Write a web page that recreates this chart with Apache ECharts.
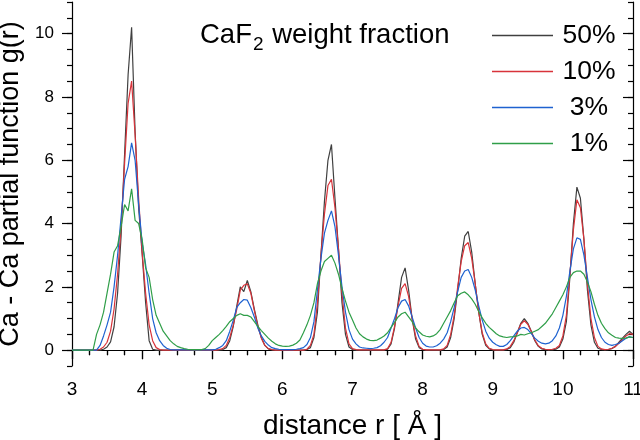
<!DOCTYPE html>
<html>
<head>
<meta charset="utf-8">
<script src="https://cdn.jsdelivr.net/npm/echarts@6/dist/echarts.min.js"></script>
<style>
html,body{margin:0;padding:0;background:#fff;}
#chart{width:640px;height:440px;}
</style>
</head>
<body>
<div id="chart"></div>
<script>
// sampling grid of distance r (Å)
const rStart = 3.0, rStep = 0.05, rCount = 161;
const seriesNames = ['50%', '10%', '3%', '1%'];
const xTickLabels = [3, 4, 5, 6, 7, 8, 9, 10, 11];
const yTickLabels = [0, 2, 4, 6, 8, 10];

const g50 = [
  0,0,0,0,0,0,0,0,0,0.03,
  0.1,0.26,0.74,1.8,3.6,6.2,8.7,10.2,6.9,4.5,
  3.05,1.5,0.3,0.03,0,0,0,0,0,0,
  0,0,0,0,0,0,0,0,0,0,
  0,0,0,0.02,0.08,0.3,0.75,1.4,2.0,1.85,
  2.2,1.85,1.3,0.8,0.4,0.15,0.04,0.01,0,0,
  0,0,0,0,0,0,0,0.02,0.08,0.4,
  1.2,3.0,4.7,6.0,6.5,4.8,3.2,1.5,0.5,0.1,
  0.02,0,0,0,0,0,0,0,0,0,
  0.03,0.2,0.7,1.5,2.3,2.6,1.9,1.0,0.35,0.08,
  0.02,0,0,0,0,0,0.02,0.1,0.4,1.0,
  1.9,2.9,3.6,3.75,3.1,2.1,1.2,0.5,0.15,0.04,
  0.01,0,0,0,0.02,0.08,0.25,0.55,0.85,1.0,
  0.85,0.6,0.3,0.12,0.04,0.02,0.01,0.01,0.03,0.1,
  0.35,0.9,2.3,4.0,5.15,4.8,3.5,1.9,0.8,0.25,
  0.06,0.02,0.01,0.02,0.05,0.12,0.25,0.38,0.5,0.6,
  0.5
];
const g10 = [
  0,0,0,0,0,0,0,0,0.03,0.1,
  0.25,0.6,1.3,2.4,3.9,5.9,7.8,8.5,6.8,4.8,
  3.1,1.8,0.8,0.3,0.08,0.02,0,0,0,0,
  0,0,0,0,0,0,0,0,0,0,
  0,0,0.02,0.05,0.15,0.4,0.8,1.3,1.9,2.05,
  2.1,1.8,1.25,0.75,0.38,0.15,0.05,0.02,0,0,
  0,0,0,0,0,0,0,0.03,0.15,0.5,
  1.5,3.0,4.3,5.2,5.4,4.5,3.2,1.8,0.7,0.2,
  0.05,0.02,0.01,0.01,0.01,0.01,0.01,0.01,0.01,0.01,
  0.05,0.25,0.75,1.4,1.95,2.1,1.7,1.0,0.45,0.12,
  0.03,0.01,0.01,0.01,0.01,0.01,0.04,0.15,0.5,1.1,
  2.0,2.8,3.3,3.4,2.9,2.1,1.2,0.55,0.2,0.06,
  0.02,0.01,0.01,0.01,0.04,0.12,0.3,0.55,0.82,0.93,
  0.82,0.58,0.32,0.14,0.06,0.03,0.02,0.03,0.06,0.15,
  0.45,1.1,2.4,3.8,4.75,4.5,3.5,2.1,1.0,0.4,
  0.12,0.04,0.02,0.03,0.06,0.12,0.22,0.33,0.45,0.52,
  0.5
];
const g3 = [
  0,0,0,0,0,0,0,0,0.15,0.45,
  0.8,1.2,2.0,3.0,4.2,5.4,5.8,6.55,6.0,4.6,
  3.4,2.7,1.8,1.0,0.55,0.3,0.15,0.06,0.02,0.01,
  0.01,0.01,0.01,0.01,0.01,0.01,0.01,0.01,0.01,0.01,
  0.01,0.03,0.08,0.15,0.3,0.6,0.95,1.35,1.5,1.6,
  1.58,1.35,1.05,0.7,0.45,0.28,0.16,0.08,0.05,0.03,
  0.02,0.02,0.02,0.02,0.03,0.05,0.08,0.18,0.4,0.9,
  1.9,2.9,3.7,4.1,4.4,3.9,3.0,2.0,1.2,0.65,
  0.35,0.2,0.1,0.07,0.06,0.05,0.06,0.08,0.14,0.25,
  0.4,0.7,1.0,1.35,1.55,1.6,1.4,1.05,0.7,0.4,
  0.22,0.13,0.1,0.1,0.14,0.22,0.35,0.55,0.9,1.35,
  1.85,2.3,2.5,2.55,2.3,1.9,1.4,0.95,0.6,0.38,
  0.25,0.17,0.12,0.12,0.18,0.3,0.45,0.6,0.7,0.72,
  0.65,0.52,0.38,0.28,0.22,0.2,0.22,0.3,0.45,0.7,
  1.1,1.7,2.5,3.2,3.55,3.5,3.0,2.3,1.6,1.05,
  0.65,0.4,0.25,0.18,0.15,0.18,0.22,0.3,0.38,0.42,
  0.4
];
const g1 = [
  0,0,0,0,0,0,0,0.5,0.8,1.2,
  1.8,2.4,3.1,3.3,3.9,4.6,4.4,5.1,4.1,4.0,
  3.5,2.6,2.3,1.6,1.1,0.85,0.6,0.45,0.3,0.2,
  0.12,0.08,0.05,0.03,0.02,0.02,0.02,0.02,0.05,0.15,
  0.3,0.4,0.5,0.62,0.75,0.9,1.0,1.1,1.15,1.1,
  1.1,1.05,0.9,0.75,0.62,0.5,0.38,0.28,0.2,0.15,
  0.13,0.12,0.13,0.16,0.22,0.32,0.55,0.8,1.1,1.5,
  2.1,2.5,2.8,2.9,3.0,2.75,2.4,1.95,1.55,1.2,
  0.95,0.7,0.52,0.42,0.35,0.31,0.3,0.32,0.38,0.45,
  0.55,0.72,0.88,1.05,1.15,1.2,1.05,0.9,0.7,0.58,
  0.48,0.44,0.42,0.45,0.52,0.65,0.85,1.05,1.25,1.5,
  1.72,1.8,1.84,1.75,1.62,1.45,1.22,1.02,0.85,0.72,
  0.62,0.52,0.45,0.42,0.4,0.42,0.43,0.45,0.5,0.48,
  0.52,0.55,0.6,0.65,0.75,0.85,1.0,1.15,1.35,1.55,
  1.75,2.0,2.3,2.45,2.5,2.5,2.4,2.15,1.85,1.45,
  1.1,0.85,0.68,0.55,0.47,0.4,0.38,0.37,0.38,0.42,
  0.4
];

const r = [];
for (let i = 0; i < rCount; i++) r.push(+(rStart + rStep * i).toFixed(2));
const values = [g50, g10, g3, g1];
const colors = ['#404040', '#d8333a', '#1e62d0', '#2f9e48'];

const FONT = 'Liberation Sans, Arial, Helvetica, sans-serif';
const axisLineStyle = { color: '#000', width: 1.2 };
const yMin = -0.5, yMax = 11;

const chart = echarts.init(document.getElementById('chart'), null, { renderer: 'canvas' });
chart.setOption({
  backgroundColor: '#fff',
  animation: false,
  grid: { left: 72, right: 7, top: 2, bottom: 74, containLabel: false, outerBoundsMode: 'none' },
  title: {
    text: '{n|CaF}{s|2}{n| weight fraction}',
    left: 200, top: 21, padding: 0,
    textStyle: {
      fontWeight: 'normal',
      rich: {
        n: { fontSize: 27.5, fontFamily: FONT, fontWeight: 'normal', color: '#000', lineHeight: 30, verticalAlign: 'top' },
        s: { fontSize: 19, fontFamily: FONT, fontWeight: 'normal', color: '#000', lineHeight: 30, verticalAlign: 'top', padding: [14, 1, 0, 1] }
      }
    }
  },
  legend: {
    orient: 'vertical', left: 492, top: 22, padding: 0,
    itemWidth: 61, itemHeight: 1.6, itemGap: 9,
    icon: 'rect',
    data: seriesNames,
    formatter: '{a|{name}}',
    textStyle: {
      rich: { a: { fontSize: 26.5, fontFamily: FONT, color: '#000', width: 62, align: 'center', lineHeight: 26 } }
    }
  },
  xAxis: [
    {
      type: 'value', min: 3, max: 11, interval: 1, position: 'bottom',
      name: 'distance r [ Å ]', nameLocation: 'middle', nameGap: 46,
      nameTextStyle: { fontSize: 28, fontFamily: FONT, color: '#000' },
      axisLine: { show: true, lineStyle: axisLineStyle },
      axisTick: { show: true, length: 9, lineStyle: axisLineStyle },
      minorTick: { show: true, splitNumber: 4, length: 5, lineStyle: axisLineStyle },
      axisLabel: { fontSize: 19, fontFamily: FONT, color: '#000', margin: 14,
        formatter: v => xTickLabels.indexOf(v) >= 0 ? String(v) : '' },
      splitLine: { show: false }, minorSplitLine: { show: false }
    },
    {
      type: 'value', min: 3, max: 11, interval: 1, position: 'top',
      axisLine: { show: true, lineStyle: axisLineStyle },
      axisTick: { show: true, inside: true, length: 9, lineStyle: axisLineStyle },
      minorTick: { show: true, splitNumber: 4, length: 5, lineStyle: axisLineStyle },
      axisLabel: { show: false }, splitLine: { show: false }
    }
  ],
  yAxis: [
    {
      type: 'value', min: yMin, max: yMax, interval: 0.5, position: 'left',
      name: 'Ca - Ca partial function g(r)', nameLocation: 'middle', nameGap: 36,
      nameTextStyle: { fontSize: 27, fontFamily: FONT, color: '#000' },
      axisLine: { show: true, lineStyle: axisLineStyle },
      axisTick: { show: true, length: 5, lineStyle: axisLineStyle },
      axisLabel: { fontSize: 17, fontFamily: FONT, color: '#000', margin: 18,
        formatter: v => yTickLabels.indexOf(v) >= 0 ? String(v) : '' },
      splitLine: { show: false }
    },
    {
      type: 'value', min: yMin, max: yMax, interval: 0.5, position: 'left',
      axisLine: { show: false },
      axisTick: { show: true, length: 10, lineStyle: axisLineStyle, customValues: yTickLabels },
      axisLabel: { show: false }, splitLine: { show: false }
    },
    {
      type: 'value', min: yMin, max: yMax, interval: 0.5, position: 'right',
      axisLine: { show: true, lineStyle: axisLineStyle },
      axisTick: { show: true, inside: true, length: 5, lineStyle: axisLineStyle },
      axisLabel: { show: false }, splitLine: { show: false }
    },
    {
      type: 'value', min: yMin, max: yMax, interval: 0.5, position: 'right',
      axisLine: { show: false },
      axisTick: { show: true, inside: true, length: 10, lineStyle: axisLineStyle, customValues: yTickLabels },
      axisLabel: { show: false }, splitLine: { show: false }
    }
  ],
  series: seriesNames.map((name, k) => ({
    name: name,
    type: 'line',
    xAxisIndex: 0, yAxisIndex: 0,
    showSymbol: false, symbol: 'none',
    color: colors[k],
    lineStyle: { color: colors[k], width: 1.2 },
    data: r.map((x, i) => [x, values[k][i]])
  }))
});
</script>
</body>
</html>
